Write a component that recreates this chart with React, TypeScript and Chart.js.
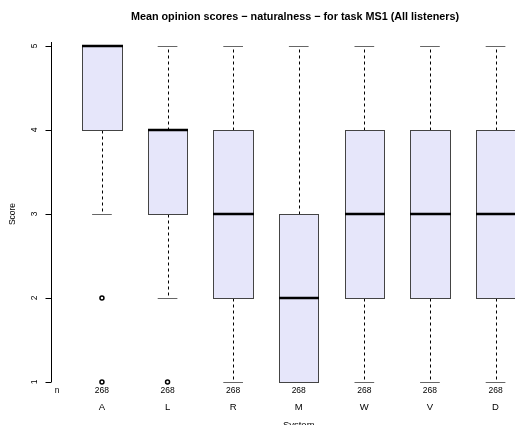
import React, { useEffect, useRef } from "react";
import { Chart, registerables } from "chart.js";

Chart.register(...registerables);

const categories = ["A", "L", "R", "M", "W", "V", "D"];
const q1Values = [4, 3, 2, 1, 2, 2, 2];
const medianValues = [5, 4, 3, 2, 3, 3, 3];
const q3Values = [5, 4, 4, 3, 4, 4, 4];
const whiskerLowValues = [3, 2, 1, 1, 1, 1, 1];
const whiskerHighValues = [5, 5, 5, 5, 5, 5, 5];
const countValues = [268, 268, 268, 268, 268, 268, 268];
const outlierPositions = [1, 1, 2];
const outlierValues = [2, 1, 1];
const yTickValues = [1, 2, 3, 4, 5];

const titleText = "Mean opinion scores \u2212 naturalness \u2212 for task MS1 (All listeners)";
const FONT = "'Liberation Sans', Arial, Helvetica, sans-serif";

const boxPlugin = {
  id: "rBoxplot",
  beforeDatasetsDraw(chart: any) {
    const ctx = chart.ctx;
    const xs = chart.scales.x;
    const ys = chart.scales.y;
    ctx.save();
    categories.forEach((_, i) => {
      const pos = i + 1;
      const cx = Math.round(xs.getPixelForValue(pos)) + 0.5;
      const left = Math.round(xs.getPixelForValue(pos - 0.3)) + 0.5;
      const right = Math.round(xs.getPixelForValue(pos + 0.3)) + 0.5;
      const sl = xs.getPixelForValue(pos - 0.15);
      const sr = xs.getPixelForValue(pos + 0.15);
      const yq1 = Math.round(ys.getPixelForValue(q1Values[i])) + 0.5;
      const yq3 = Math.round(ys.getPixelForValue(q3Values[i])) + 0.5;
      const ymed = ys.getPixelForValue(medianValues[i]);
      const ylo = Math.round(ys.getPixelForValue(whiskerLowValues[i])) + 0.5;
      const yhi = Math.round(ys.getPixelForValue(whiskerHighValues[i])) + 0.5;

      ctx.strokeStyle = "#000";
      ctx.lineWidth = 1;
      ctx.setLineDash([3, 3]);
      if (yhi < yq3) {
        ctx.beginPath();
        ctx.moveTo(cx, yq3);
        ctx.lineTo(cx, yhi);
        ctx.stroke();
      }
      if (ylo > yq1) {
        ctx.beginPath();
        ctx.moveTo(cx, yq1);
        ctx.lineTo(cx, ylo);
        ctx.stroke();
      }
      ctx.setLineDash([]);
      ctx.strokeStyle = "#666";
      ctx.lineWidth = 1.2;
      ctx.beginPath();
      ctx.moveTo(sl, yhi);
      ctx.lineTo(sr, yhi);
      ctx.moveTo(sl, ylo);
      ctx.lineTo(sr, ylo);
      ctx.stroke();

      ctx.fillStyle = "#E6E6FA";
      ctx.fillRect(left, yq3, right - left, yq1 - yq3);
      ctx.strokeStyle = "#444";
      ctx.lineWidth = 1;
      ctx.strokeRect(left, yq3, right - left, yq1 - yq3);

      ctx.strokeStyle = "#000";
      ctx.lineWidth = 2.5;
      ctx.beginPath();
      ctx.moveTo(left - 0.5, ymed);
      ctx.lineTo(right + 0.5, ymed);
      ctx.stroke();
    });
    ctx.restore();
  },
  afterDraw(chart: any) {
    const ctx = chart.ctx;
    const xs = chart.scales.x;
    const ys = chart.scales.y;
    const area = chart.chartArea;
    ctx.save();
    ctx.fillStyle = "#000";
    ctx.strokeStyle = "#000";
    ctx.lineWidth = 1;

    const ax = area.left + 0.5;
    ctx.beginPath();
    ctx.moveTo(ax, ys.getPixelForValue(yTickValues[yTickValues.length - 1]) - 4);
    ctx.lineTo(ax, ys.getPixelForValue(yTickValues[0]));
    yTickValues.forEach((v) => {
      const py = Math.round(ys.getPixelForValue(v)) + 0.5;
      ctx.moveTo(ax, py);
      ctx.lineTo(ax - 6, py);
    });
    ctx.stroke();
    ctx.font = "8.5px " + FONT;
    ctx.textAlign = "center";
    ctx.textBaseline = "middle";
    yTickValues.forEach((v) => {
      const py = ys.getPixelForValue(v);
      ctx.save();
      ctx.translate(35, py);
      ctx.rotate(-Math.PI / 2);
      ctx.fillText(String(v), 0, 0);
      ctx.restore();
    });
    ctx.save();
    ctx.translate(13, ys.getPixelForValue(3));
    ctx.rotate(-Math.PI / 2);
    ctx.fillText("Score", 0, 0);
    ctx.restore();

    ctx.font = "8.5px " + FONT;
    ctx.fillText("n", 57, 391);
    categories.forEach((c, i) => {
      const px = xs.getPixelForValue(i + 1);
      ctx.font = "8.5px " + FONT;
      ctx.fillText(String(countValues[i]), px, 391);
      ctx.font = "9.5px " + FONT;
      ctx.fillText(c, px, 407);
    });
    ctx.font = "9.5px " + FONT;
    ctx.fillText("System", xs.getPixelForValue(4), 425);

    ctx.font = "bold 10.8px " + FONT;
    ctx.fillText(titleText, 295, 17);
    ctx.restore();
  },
};

export default function App() {
  const ref = useRef<HTMLCanvasElement>(null);
  useEffect(() => {
    if (!ref.current) return;
    const chart = new Chart(ref.current, {
      type: "scatter",
      data: {
        datasets: [
          {
            data: outlierPositions.map((p, i) => ({ x: p, y: outlierValues[i] })),
            pointStyle: "circle",
            pointRadius: 2,
            pointBorderWidth: 1.5,
            pointBorderColor: "#000",
            pointBackgroundColor: "#fff",
            clip: false as any,
          },
        ],
      },
      options: {
        responsive: false,
        animation: false,
        devicePixelRatio: 1,
        layout: { padding: { left: 51, top: 46, right: 0, bottom: 43 } },
        scales: {
          x: { type: "linear", min: 0.2234, max: 7.213, display: false },
          y: { type: "linear", min: 1, max: 5, display: false },
        },
        plugins: {
          legend: { display: false },
          tooltip: { enabled: false },
          title: { display: false },
        },
      },
      plugins: [boxPlugin],
    });
    return () => chart.destroy();
  }, []);
  return (
    <div style={{ position: "fixed", left: 0, top: 0, width: 515, height: 425, background: "#fff" }}>
      <canvas ref={ref} width={515} height={425} style={{ width: 515, height: 425 }} />
    </div>
  );
}
